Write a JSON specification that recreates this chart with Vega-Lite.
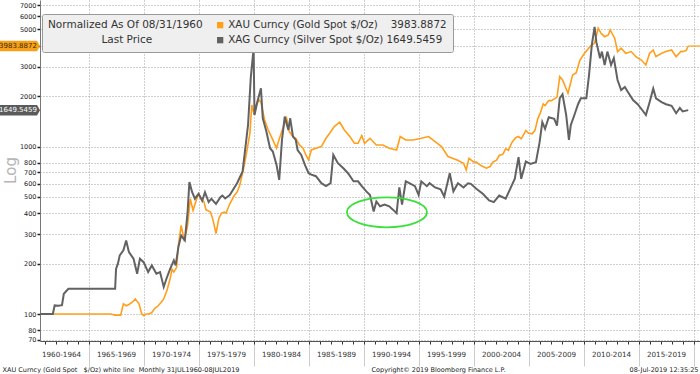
{
"$schema": "https://vega.github.io/schema/vega-lite/v6.json",
"width": 660, "height": 341,
"autosize": {"type": "none"},
"padding": {"left": 40, "top": 0, "right": 0, "bottom": 33},
"background": "white",
"config": {"view": {"stroke": null}, "font": "DejaVu Sans", "axis": {"labelFont": "DejaVu Sans", "titleFont": "DejaVu Sans"}, "legend": {"labelFont": "DejaVu Sans", "titleFont": "DejaVu Sans"}},
"datasets": {
"px": [
{"d":"1960-08-01","k":"XAU","v":100},{"d":"1963-01-01","k":"XAU","v":100},{"d":"1967-01-01","k":"XAU","v":100},{"d":"1967-06-01","k":"XAU","v":98.5},{"d":"1967-12-01","k":"XAU","v":98.5},{"d":"1968-03-01","k":"XAU","v":115},{"d":"1968-06-01","k":"XAU","v":112},{"d":"1968-09-01","k":"XAU","v":114},{"d":"1969-01-01","k":"XAU","v":118},{"d":"1969-04-01","k":"XAU","v":123},{"d":"1969-06-01","k":"XAU","v":119},{"d":"1969-08-01","k":"XAU","v":115},{"d":"1969-11-01","k":"XAU","v":100},{"d":"1970-01-01","k":"XAU","v":98},{"d":"1970-04-01","k":"XAU","v":100},{"d":"1970-07-01","k":"XAU","v":100},{"d":"1970-10-01","k":"XAU","v":102},{"d":"1971-01-01","k":"XAU","v":107.7},{"d":"1971-05-01","k":"XAU","v":112},{"d":"1971-08-01","k":"XAU","v":117},{"d":"1971-11-01","k":"XAU","v":123},{"d":"1972-03-01","k":"XAU","v":141},{"d":"1972-06-01","k":"XAU","v":163},{"d":"1972-08-01","k":"XAU","v":185},{"d":"1972-10-01","k":"XAU","v":178},{"d":"1973-01-01","k":"XAU","v":190},{"d":"1973-03-01","k":"XAU","v":257},{"d":"1973-06-01","k":"XAU","v":338},{"d":"1973-09-01","k":"XAU","v":281},{"d":"1973-11-01","k":"XAU","v":300},{"d":"1974-01-01","k":"XAU","v":338},{"d":"1974-04-01","k":"XAU","v":488},{"d":"1974-07-01","k":"XAU","v":415},{"d":"1974-10-01","k":"XAU","v":470},{"d":"1975-01-01","k":"XAU","v":522},{"d":"1975-04-01","k":"XAU","v":488},{"d":"1975-07-01","k":"XAU","v":466},{"d":"1975-09-01","k":"XAU","v":420},{"d":"1976-02-01","k":"XAU","v":406},{"d":"1976-05-01","k":"XAU","v":360},{"d":"1976-08-01","k":"XAU","v":302},{"d":"1976-11-01","k":"XAU","v":371},{"d":"1977-02-01","k":"XAU","v":400},{"d":"1977-05-01","k":"XAU","v":406},{"d":"1977-07-01","k":"XAU","v":400},{"d":"1977-11-01","k":"XAU","v":455},{"d":"1978-04-01","k":"XAU","v":510},{"d":"1978-07-01","k":"XAU","v":534},{"d":"1978-10-01","k":"XAU","v":590},{"d":"1979-02-01","k":"XAU","v":736},{"d":"1979-05-01","k":"XAU","v":891},{"d":"1979-09-01","k":"XAU","v":1200},{"d":"1979-11-01","k":"XAU","v":1770},{"d":"1980-01-01","k":"XAU","v":1600},{"d":"1980-04-01","k":"XAU","v":1770},{"d":"1980-07-01","k":"XAU","v":1897},{"d":"1980-09-01","k":"XAU","v":1840},{"d":"1981-01-01","k":"XAU","v":1442},{"d":"1981-05-01","k":"XAU","v":1256},{"d":"1981-10-01","k":"XAU","v":1095},{"d":"1982-02-01","k":"XAU","v":977},{"d":"1982-05-01","k":"XAU","v":1110},{"d":"1982-09-01","k":"XAU","v":1286},{"d":"1983-01-01","k":"XAU","v":1475},{"d":"1983-04-01","k":"XAU","v":1229},{"d":"1983-08-01","k":"XAU","v":1147},{"d":"1983-11-01","k":"XAU","v":1120},{"d":"1984-03-01","k":"XAU","v":1022},{"d":"1984-07-01","k":"XAU","v":977},{"d":"1984-10-01","k":"XAU","v":891},{"d":"1985-01-01","k":"XAU","v":832},{"d":"1985-04-01","k":"XAU","v":954},{"d":"1985-09-01","k":"XAU","v":977},{"d":"1986-03-01","k":"XAU","v":1000},{"d":"1986-08-01","k":"XAU","v":1120},{"d":"1986-12-01","k":"XAU","v":1200},{"d":"1987-05-01","k":"XAU","v":1316},{"d":"1987-11-01","k":"XAU","v":1397},{"d":"1988-04-01","k":"XAU","v":1256},{"d":"1988-10-01","k":"XAU","v":1147},{"d":"1989-03-01","k":"XAU","v":1046},{"d":"1989-07-01","k":"XAU","v":1046},{"d":"1989-11-01","k":"XAU","v":1163},{"d":"1990-02-01","k":"XAU","v":1046},{"d":"1990-08-01","k":"XAU","v":1120},{"d":"1991-03-01","k":"XAU","v":1022},{"d":"1991-10-01","k":"XAU","v":1022},{"d":"1992-05-01","k":"XAU","v":977},{"d":"1993-01-01","k":"XAU","v":954},{"d":"1993-05-01","k":"XAU","v":1147},{"d":"1993-11-01","k":"XAU","v":1095},{"d":"1994-07-01","k":"XAU","v":1095},{"d":"1995-04-01","k":"XAU","v":1120},{"d":"1995-12-01","k":"XAU","v":1147},{"d":"1996-07-01","k":"XAU","v":1070},{"d":"1997-02-01","k":"XAU","v":1000},{"d":"1997-09-01","k":"XAU","v":872},{"d":"1998-07-01","k":"XAU","v":832},{"d":"1999-02-01","k":"XAU","v":795},{"d":"1999-05-01","k":"XAU","v":725},{"d":"1999-08-01","k":"XAU","v":851},{"d":"2000-01-01","k":"XAU","v":810},{"d":"2000-04-01","k":"XAU","v":807},{"d":"2000-09-01","k":"XAU","v":770},{"d":"2001-03-01","k":"XAU","v":743},{"d":"2001-07-01","k":"XAU","v":760},{"d":"2001-10-01","k":"XAU","v":807},{"d":"2002-02-01","k":"XAU","v":830},{"d":"2002-05-01","k":"XAU","v":884},{"d":"2002-09-01","k":"XAU","v":900},{"d":"2002-12-01","k":"XAU","v":969},{"d":"2003-03-01","k":"XAU","v":950},{"d":"2003-07-01","k":"XAU","v":1062},{"d":"2003-11-01","k":"XAU","v":1130},{"d":"2004-02-01","k":"XAU","v":1150},{"d":"2004-05-01","k":"XAU","v":1112},{"d":"2004-10-01","k":"XAU","v":1246},{"d":"2005-01-01","k":"XAU","v":1200},{"d":"2005-05-01","k":"XAU","v":1191},{"d":"2005-08-01","k":"XAU","v":1250},{"d":"2005-11-01","k":"XAU","v":1463},{"d":"2006-02-01","k":"XAU","v":1600},{"d":"2006-05-01","k":"XAU","v":1797},{"d":"2006-07-01","k":"XAU","v":1757},{"d":"2006-11-01","k":"XAU","v":1881},{"d":"2007-02-01","k":"XAU","v":1880},{"d":"2007-05-01","k":"XAU","v":1925},{"d":"2007-08-01","k":"XAU","v":1967},{"d":"2007-11-01","k":"XAU","v":2617},{"d":"2008-02-01","k":"XAU","v":2500},{"d":"2008-08-01","k":"XAU","v":2080},{"d":"2009-01-01","k":"XAU","v":2676},{"d":"2009-05-01","k":"XAU","v":2760},{"d":"2009-09-01","k":"XAU","v":3285},{"d":"2010-02-01","k":"XAU","v":3605},{"d":"2010-08-01","k":"XAU","v":3950},{"d":"2011-01-01","k":"XAU","v":4150},{"d":"2011-05-01","k":"XAU","v":5087},{"d":"2011-08-01","k":"XAU","v":4750},{"d":"2011-12-01","k":"XAU","v":4530},{"d":"2012-04-01","k":"XAU","v":4640},{"d":"2012-06-01","k":"XAU","v":4970},{"d":"2012-11-01","k":"XAU","v":4420},{"d":"2013-02-01","k":"XAU","v":3690},{"d":"2013-06-01","k":"XAU","v":3870},{"d":"2013-11-01","k":"XAU","v":3605},{"d":"2014-05-01","k":"XAU","v":3690},{"d":"2014-10-01","k":"XAU","v":3440},{"d":"2015-04-01","k":"XAU","v":3285},{"d":"2015-09-01","k":"XAU","v":3070},{"d":"2016-01-01","k":"XAU","v":3605},{"d":"2016-05-01","k":"XAU","v":3770},{"d":"2016-08-01","k":"XAU","v":3440},{"d":"2017-02-01","k":"XAU","v":3605},{"d":"2017-07-01","k":"XAU","v":3690},{"d":"2018-01-01","k":"XAU","v":3770},{"d":"2018-06-01","k":"XAU","v":3440},{"d":"2018-11-01","k":"XAU","v":3690},{"d":"2019-02-01","k":"XAU","v":3700},{"d":"2019-05-01","k":"XAU","v":3750},{"d":"2019-07-08","k":"XAU","v":3983.8872},
{"d":"1960-08-01","k":"XAG","v":100},{"d":"1961-10-01","k":"XAG","v":100},{"d":"1961-12-01","k":"XAG","v":112.5},{"d":"1962-04-01","k":"XAG","v":112},{"d":"1962-08-01","k":"XAG","v":113},{"d":"1962-10-01","k":"XAG","v":132},{"d":"1963-03-01","k":"XAG","v":141.6},{"d":"1965-01-01","k":"XAG","v":141.6},{"d":"1967-06-01","k":"XAG","v":141.6},{"d":"1967-07-01","k":"XAG","v":186},{"d":"1967-09-01","k":"XAG","v":200},{"d":"1967-11-01","k":"XAG","v":224},{"d":"1968-03-01","k":"XAG","v":240},{"d":"1968-06-01","k":"XAG","v":275},{"d":"1968-09-01","k":"XAG","v":234},{"d":"1969-02-01","k":"XAG","v":214},{"d":"1969-06-01","k":"XAG","v":174},{"d":"1969-09-01","k":"XAG","v":214},{"d":"1970-01-01","k":"XAG","v":204},{"d":"1970-06-01","k":"XAG","v":178},{"d":"1970-10-01","k":"XAG","v":195},{"d":"1971-03-01","k":"XAG","v":174},{"d":"1971-07-01","k":"XAG","v":178},{"d":"1971-11-01","k":"XAG","v":145},{"d":"1972-02-01","k":"XAG","v":163},{"d":"1972-06-01","k":"XAG","v":186},{"d":"1972-10-01","k":"XAG","v":209},{"d":"1972-12-01","k":"XAG","v":195},{"d":"1973-03-01","k":"XAG","v":251},{"d":"1973-06-01","k":"XAG","v":294},{"d":"1973-10-01","k":"XAG","v":275},{"d":"1974-01-01","k":"XAG","v":406},{"d":"1974-03-01","k":"XAG","v":613},{"d":"1974-06-01","k":"XAG","v":534},{"d":"1974-09-01","k":"XAG","v":488},{"d":"1975-01-01","k":"XAG","v":522},{"d":"1975-05-01","k":"XAG","v":475},{"d":"1975-08-01","k":"XAG","v":534},{"d":"1975-12-01","k":"XAG","v":466},{"d":"1976-03-01","k":"XAG","v":488},{"d":"1976-08-01","k":"XAG","v":455},{"d":"1977-01-01","k":"XAG","v":500},{"d":"1977-03-01","k":"XAG","v":510},{"d":"1977-06-01","k":"XAG","v":490},{"d":"1977-11-01","k":"XAG","v":514},{"d":"1978-07-01","k":"XAG","v":604},{"d":"1979-01-01","k":"XAG","v":710},{"d":"1979-07-01","k":"XAG","v":1345},{"d":"1979-10-01","k":"XAG","v":2600},{"d":"1980-01-01","k":"XAG","v":3829},{"d":"1980-02-01","k":"XAG","v":1544},{"d":"1980-05-01","k":"XAG","v":1840},{"d":"1980-09-01","k":"XAG","v":2228},{"d":"1980-11-01","k":"XAG","v":1475},{"d":"1981-03-01","k":"XAG","v":1229},{"d":"1981-07-01","k":"XAG","v":977},{"d":"1981-10-01","k":"XAG","v":934},{"d":"1982-02-01","k":"XAG","v":777},{"d":"1982-05-01","k":"XAG","v":632},{"d":"1982-08-01","k":"XAG","v":1095},{"d":"1982-11-01","k":"XAG","v":1510},{"d":"1983-03-01","k":"XAG","v":1256},{"d":"1983-05-01","k":"XAG","v":1475},{"d":"1983-08-01","k":"XAG","v":1147},{"d":"1983-11-01","k":"XAG","v":1095},{"d":"1984-01-01","k":"XAG","v":954},{"d":"1984-05-01","k":"XAG","v":891},{"d":"1984-09-01","k":"XAG","v":777},{"d":"1985-01-01","k":"XAG","v":693},{"d":"1985-04-01","k":"XAG","v":680},{"d":"1985-09-01","k":"XAG","v":665},{"d":"1986-03-01","k":"XAG","v":604},{"d":"1986-08-01","k":"XAG","v":580},{"d":"1987-01-01","k":"XAG","v":604},{"d":"1987-04-01","k":"XAG","v":891},{"d":"1987-06-01","k":"XAG","v":851},{"d":"1987-09-01","k":"XAG","v":795},{"d":"1988-03-01","k":"XAG","v":742},{"d":"1988-08-01","k":"XAG","v":693},{"d":"1989-02-01","k":"XAG","v":620},{"d":"1989-07-01","k":"XAG","v":620},{"d":"1989-11-01","k":"XAG","v":580},{"d":"1990-04-01","k":"XAG","v":540},{"d":"1990-08-01","k":"XAG","v":514},{"d":"1990-12-01","k":"XAG","v":409},{"d":"1991-03-01","k":"XAG","v":470},{"d":"1991-07-01","k":"XAG","v":440},{"d":"1991-12-01","k":"XAG","v":450},{"d":"1992-05-01","k":"XAG","v":440},{"d":"1992-09-01","k":"XAG","v":420},{"d":"1993-01-01","k":"XAG","v":400},{"d":"1993-04-01","k":"XAG","v":570},{"d":"1993-07-01","k":"XAG","v":450},{"d":"1993-11-01","k":"XAG","v":620},{"d":"1994-03-01","k":"XAG","v":604},{"d":"1994-09-01","k":"XAG","v":580},{"d":"1995-01-01","k":"XAG","v":514},{"d":"1995-04-01","k":"XAG","v":620},{"d":"1995-10-01","k":"XAG","v":580},{"d":"1996-01-01","k":"XAG","v":604},{"d":"1996-07-01","k":"XAG","v":570},{"d":"1997-01-01","k":"XAG","v":555},{"d":"1997-05-01","k":"XAG","v":503},{"d":"1997-11-01","k":"XAG","v":693},{"d":"1998-03-01","k":"XAG","v":540},{"d":"1998-08-01","k":"XAG","v":604},{"d":"1999-02-01","k":"XAG","v":570},{"d":"1999-07-01","k":"XAG","v":604},{"d":"1999-10-01","k":"XAG","v":599},{"d":"2000-04-01","k":"XAG","v":559},{"d":"2000-11-01","k":"XAG","v":522},{"d":"2001-06-01","k":"XAG","v":477},{"d":"2001-11-01","k":"XAG","v":466},{"d":"2002-05-01","k":"XAG","v":510},{"d":"2002-12-01","k":"XAG","v":488},{"d":"2003-05-01","k":"XAG","v":559},{"d":"2003-10-01","k":"XAG","v":642},{"d":"2004-02-01","k":"XAG","v":864},{"d":"2004-05-01","k":"XAG","v":642},{"d":"2004-10-01","k":"XAG","v":815},{"d":"2005-03-01","k":"XAG","v":788},{"d":"2005-09-01","k":"XAG","v":807},{"d":"2006-01-01","k":"XAG","v":1062},{"d":"2006-04-01","k":"XAG","v":1399},{"d":"2006-07-01","k":"XAG","v":1276},{"d":"2006-11-01","k":"XAG","v":1497},{"d":"2007-05-01","k":"XAG","v":1463},{"d":"2007-08-01","k":"XAG","v":1335},{"d":"2007-11-01","k":"XAG","v":1942},{"d":"2008-02-01","k":"XAG","v":2050},{"d":"2008-06-01","k":"XAG","v":1543},{"d":"2008-09-01","k":"XAG","v":1095},{"d":"2008-11-01","k":"XAG","v":1340},{"d":"2009-03-01","k":"XAG","v":1543},{"d":"2009-07-01","k":"XAG","v":1790},{"d":"2009-10-01","k":"XAG","v":1940},{"d":"2010-04-01","k":"XAG","v":1940},{"d":"2010-07-01","k":"XAG","v":2676},{"d":"2010-10-01","k":"XAG","v":4040},{"d":"2011-01-01","k":"XAG","v":5190},{"d":"2011-03-01","k":"XAG","v":4200},{"d":"2011-07-01","k":"XAG","v":3369},{"d":"2011-09-01","k":"XAG","v":3690},{"d":"2011-12-01","k":"XAG","v":3070},{"d":"2012-03-01","k":"XAG","v":3690},{"d":"2012-07-01","k":"XAG","v":3070},{"d":"2012-10-01","k":"XAG","v":3369},{"d":"2013-02-01","k":"XAG","v":2497},{"d":"2013-06-01","k":"XAG","v":2175},{"d":"2013-10-01","k":"XAG","v":2270},{"d":"2014-01-01","k":"XAG","v":2130},{"d":"2014-07-01","k":"XAG","v":1897},{"d":"2014-12-01","k":"XAG","v":1790},{"d":"2015-06-01","k":"XAG","v":1625},{"d":"2015-09-01","k":"XAG","v":1543},{"d":"2016-01-01","k":"XAG","v":1840},{"d":"2016-05-01","k":"XAG","v":2220},{"d":"2016-08-01","k":"XAG","v":1940},{"d":"2017-02-01","k":"XAG","v":1840},{"d":"2017-07-01","k":"XAG","v":1790},{"d":"2018-01-01","k":"XAG","v":1750},{"d":"2018-06-01","k":"XAG","v":1580},{"d":"2018-10-01","k":"XAG","v":1700},{"d":"2019-01-01","k":"XAG","v":1620},{"d":"2019-07-08","k":"XAG","v":1649.5459}
],
"last": [{"d":"2019-07-08","d2":"2020-08-01","v":3983.8872}],
"ell": [{"d":"1992-02-15","v":405}],
"tags": [{"k":"XAU","v":3983.8872,"t":"3983.8872"},{"k":"XAG","v":1649.5459,"t":"1649.5459"}]
},
"encoding": {
  "y": {"field": "v", "type": "quantitative",
    "scale": {"type": "log", "domain": [69, 7500], "nice": false},
    "axis": {"values": [70,80,100,200,300,400,500,600,700,800,1000,2000,3000,4000,5000,6000,7000],
      "format": "d", "labelExpr": "datum.value == 4000 ? '' : datum.label",
      "grid": true, "gridDash": [1,2], "gridColor": "#a0a0a0", "gridWidth": 1,
      "tickSize": 3, "tickColor": "#222", "tickWidth": 1.5,
      "labelFontSize": 6.5, "labelColor": "#222", "labelPadding": 1,
      "domainColor": "#777", "domainWidth": 1,
      "title": "Log", "titleColor": "#b5b5b5", "titleFontSize": 15, "titleFontWeight": "normal",
      "titleX": -30, "titleY": 170, "titleAngle": -90, "titleAlign": "center", "titleBaseline": "middle"}}
},
"layer": [
  {"data": {"name": "last"}, "mark": {"type": "rule", "color": "#ff9f1c", "strokeWidth": 1.2},
   "encoding": {
     "x": {"field": "d", "type": "temporal", "scale": {"domain": ["1960-08-01", "2020-08-01"]},
       "axis": {"orient": "bottom", "tickCount": {"interval": "year", "step": 5}, "grid": true, "gridDash": [1,2], "gridColor": "#a0a0a0",
         "ticks": true, "tickSize": 25, "tickColor": "#cccccc", "tickWidth": 1, "labels": false, "domain": false,
         "title": "XAU Curncy (Gold Spot \u00a0\u00a0$/Oz) white line \u00a0Monthly 31JUL1960-08JUL2019",
         "titleX": -38, "titleY": 30, "titleAlign": "left", "titleAnchor": "start", "titleBaseline": "alphabetic",
         "titleFontSize": 6.5, "titleFontWeight": "normal", "titleColor": "#222"}},
     "x2": {"field": "d2"}}},
  {"data": {"name": "px"}, "transform": [{"filter": "datum.k == 'XAU'"}],
   "mark": {"type": "line", "strokeWidth": 1.6, "clip": true},
   "encoding": {
     "x": {"field": "d", "type": "temporal", "scale": {"domain": ["1960-08-01", "2020-08-01"]},
       "axis": {"orient": "bottom", "values": [{"year":1962,"month":7,"date":1},{"year":1967,"month":7,"date":1},{"year":1972,"month":7,"date":1},{"year":1977,"month":7,"date":1},{"year":1982,"month":7,"date":1},{"year":1987,"month":7,"date":1},{"year":1992,"month":7,"date":1},{"year":1997,"month":7,"date":1},{"year":2002,"month":7,"date":1},{"year":2007,"month":7,"date":1},{"year":2012,"month":7,"date":1},{"year":2017,"month":7,"date":1}],
         "labelExpr": "(year(datum.value)-2) + '-' + (year(datum.value)+2)",
         "ticks": false, "grid": false, "domain": false, "labelFontSize": 7.2, "labelColor": "#333", "labelPadding": 9, "labelFlush": false, "labelOverlap": false,
         "title": "Copyright\u00a9 2019 Bloomberg Finance L.P.", "titleX": 398, "titleY": 30, "titleAlign": "center", "titleBaseline": "alphabetic",
         "titleFontSize": 6.5, "titleFontWeight": "normal", "titleColor": "#222"}},
     "color": {"field": "k", "type": "nominal",
       "scale": {"domain": ["XAU", "XAG"], "range": ["#ff9f1c", "#626262"]},
       "legend": {"orient": "none", "legendX": 2, "legendY": 14, "direction": "vertical",
         "title": ["Normalized As Of 08/31/1960", "\u200b\u00a0\u00a0\u00a0\u00a0\u00a0\u00a0\u00a0\u00a0\u00a0\u00a0\u00a0\u00a0\u00a0\u00a0\u00a0\u00a0Last Price"], "titleOrient": "left", "titleAlign": "left", "titleAnchor": "start",
         "titleFont": "DejaVu Sans", "titleFontSize": 10.5, "titleFontWeight": "normal", "titleColor": "#333", "titlePadding": 12, "titleLineHeight": 14.6, "titleLimit": 300,
         "labelFont": "DejaVu Sans", "labelFontSize": 10.3, "labelColor": "#333", "labelLimit": 400, "labelOffset": 3,
         "labelExpr": "datum.label == 'XAU' ? 'XAU Curncy (Gold Spot $/Oz)\u00a0\u00a0\u00a0\u00a03983.8872' : 'XAG Curncy (Silver Spot $/Oz) 1649.5459'",
         "symbolType": "square", "symbolSize": 40, "symbolStrokeWidth": 0,
         "encode": {"symbols": {"update": {"fill": {"scale": "color", "field": "value"}, "fillOpacity": {"value": 1}, "strokeWidth": {"value": 0}}}},
         "fillColor": "#efefef", "strokeColor": "#999999", "padding": 6, "cornerRadius": 2, "rowPadding": 4}}}},
  {"data": {"name": "px"}, "transform": [{"filter": "datum.k == 'XAG'"}],
   "mark": {"type": "line", "strokeWidth": 2, "clip": true},
   "encoding": {
     "x": {"field": "d", "type": "temporal", "scale": {"domain": ["1960-08-01", "2020-08-01"]}, "axis": null},
     "color": {"field": "k", "type": "nominal"}}},
  {"data": {"name": "ell"},
   "mark": {"type": "point", "shape": "M -1 0 A 1 0.375 0 1 1 1 0 A 1 0.375 0 1 1 -1 0 Z", "size": 6400, "filled": false, "stroke": "#3ce03c", "strokeWidth": 1.8, "opacity": 1},
   "encoding": {
     "x": {"field": "d", "type": "temporal", "scale": {"domain": ["1960-08-01", "2020-08-01"]},
       "axis": {"orient": "bottom", "tickCount": {"interval": "year", "step": 1}, "grid": false, "ticks": true, "tickSize": 3, "tickColor": "#333", "tickWidth": 1,
         "labels": false, "domain": true, "domainColor": "#555",
         "title": "08-Jul-2019 12:35:25", "titleX": 658, "titleY": 30, "titleAlign": "right", "titleBaseline": "alphabetic",
         "titleFontSize": 6.5, "titleFontWeight": "normal", "titleColor": "#222"}}}},
  {"data": {"name": "tags"},
   "mark": {"type": "point", "shape": "M -1 -0.25 L 0.86 -0.25 L 1 0 L 0.86 0.25 L -1 0.25 Z", "size": 1764, "filled": true, "opacity": 1, "strokeWidth": 0},
   "encoding": {
     "x": {"value": -21},
     "fill": {"condition": {"test": "datum.k == 'XAU'", "value": "#f7a11a"}, "value": "#5a5a5a"}}},
  {"data": {"name": "tags"},
   "mark": {"type": "text", "fontSize": 7, "align": "center", "baseline": "middle"},
   "encoding": {
     "x": {"value": -22},
     "text": {"field": "t"},
     "color": {"condition": {"test": "datum.k == 'XAU'", "value": "#3a2a00"}, "value": "#ffffff"}}}
],
"resolve": {"axis": {"x": "independent"}}
}
